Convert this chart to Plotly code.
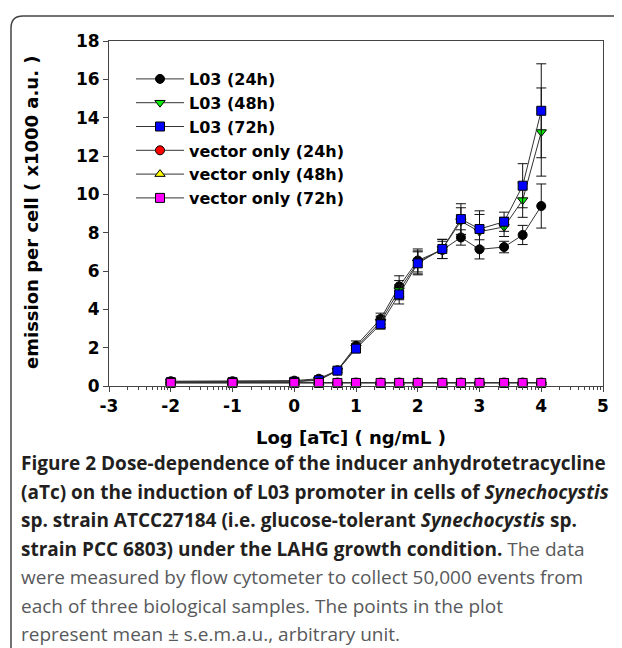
import math
import plotly.graph_objects as go

# ---- data ----
log_atc = [-2, -1, 0, 0.398, 0.699, 1, 1.398, 1.699, 2, 2.398, 2.699, 3, 3.398, 3.699, 4]

l03_24h = [0.25, 0.25, 0.28, 0.38, 0.82, 2.10, 3.50, 5.20, 6.55, 7.10, 7.75, 7.13, 7.25, 7.88, 9.39]
l03_24h_err = [0.05, 0.05, 0.05, 0.06, 0.10, 0.25, 0.30, 0.55, 0.60, 0.45, 0.40, 0.50, 0.30, 0.50, 1.15]
l03_48h = [0.22, 0.22, 0.25, 0.33, 0.80, 2.00, 3.35, 5.00, 6.45, 7.15, 8.60, 8.05, 8.30, 9.70, 13.25]
l03_48h_err = [0.05, 0.05, 0.05, 0.05, 0.10, 0.20, 0.30, 0.50, 0.60, 0.50, 0.70, 0.90, 0.50, 0.90, 2.30]
l03_72h = [0.20, 0.20, 0.22, 0.30, 0.80, 1.95, 3.22, 4.78, 6.40, 7.15, 8.71, 8.19, 8.57, 10.45, 14.36]
l03_72h_err = [0.05, 0.05, 0.05, 0.05, 0.10, 0.20, 0.25, 0.50, 0.60, 0.50, 0.80, 0.95, 0.50, 1.15, 2.45]
vec_24h = [0.18, 0.18, 0.18, 0.18, 0.18, 0.18, 0.18, 0.18, 0.18, 0.18, 0.18, 0.18, 0.18, 0.18, 0.18]
vec_48h = [0.17, 0.17, 0.17, 0.17, 0.17, 0.17, 0.17, 0.17, 0.17, 0.17, 0.17, 0.17, 0.17, 0.17, 0.17]
vec_72h = [0.16, 0.16, 0.16, 0.16, 0.16, 0.16, 0.16, 0.16, 0.16, 0.16, 0.16, 0.16, 0.16, 0.16, 0.16]
vec_err = [0.02] * 15

series_names = ["L03 (24h)", "L03 (48h)", "L03 (72h)",
                "vector only (24h)", "vector only (48h)", "vector only (72h)"]
x_ticks = [-3, -2, -1, 0, 1, 2, 3, 4, 5]
y_ticks = [0, 2, 4, 6, 8, 10, 12, 14, 16, 18]

GRAY = "<span style='color:#58595b'>{}</span>"
caption_lines = [
    "<b>Figure 2</b> <b>Dose-dependence of the inducer anhydrotetracycline</b>",
    "<b>(aTc) on the induction of L03 promoter in cells of <i>Synechocystis</i></b>",
    "<b>sp. strain ATCC27184 (i.e. glucose-tolerant <i>Synechocystis</i> sp.</b>",
    "<b>strain PCC 6803) under the LAHG growth condition.</b> " + GRAY.format("The data"),
    GRAY.format("were measured by flow cytometer to collect 50,000 events from"),
    GRAY.format("each of three biological samples. The points in the plot"),
    GRAY.format("represent mean ± s.e.m.a.u., arbitrary unit."),
]

# ---- layout geometry (pixels, in screenshot coordinates) ----
OFF = 8  # page body margin
W, H = 622 - OFF, 648 - OFF
L, R, T, B = 109 - OFF, 603 - OFF, 41 - OFF, 386 - OFF
pw, ph = R - L, B - T


def px(x):
    return (x - OFF - L) / pw


def py(y):
    return (B - (y - OFF)) / ph


styles = [
    dict(symbol="circle", color="#000000"),
    dict(symbol="triangle-down", color="#00ee00"),
    dict(symbol="square", color="#0000ff"),
    dict(symbol="circle", color="#ff0000"),
    dict(symbol="triangle-up", color="#ffff00"),
    dict(symbol="square", color="#ff00ff"),
]
ys = [l03_24h, l03_48h, l03_72h, vec_24h, vec_48h, vec_72h]
errs = [l03_24h_err, l03_48h_err, l03_72h_err, vec_err, vec_err, vec_err]

fig = go.Figure()
for name, y, e, st in zip(series_names, ys, errs, styles):
    fig.add_trace(go.Scatter(
        x=log_atc, y=y, name=name, mode="lines+markers",
        line=dict(color="#333333", width=1),
        marker=dict(symbol=st["symbol"], color=st["color"], size=9,
                    line=dict(color="#000000", width=1)),
        error_y=dict(type="data", array=e, visible=True, color="#111111",
                     thickness=1, width=5),
        cliponaxis=False,
    ))

minor_vals = []
for k in range(-3, 5):
    for m in range(2, 10):
        minor_vals.append(k + math.log10(m))

FONT = "DejaVu Sans, Liberation Sans, Arial, sans-serif"
tickfont = dict(family=FONT, size=17, color="#000000", weight="bold")

fig.update_layout(
    width=W, height=H, autosize=False,
    margin=dict(l=L, r=W - R, t=T, b=H - B, pad=0),
    paper_bgcolor="white", plot_bgcolor="white",
    showlegend=True,
    legend=dict(x=px(131), y=py(62), xanchor="left", yanchor="top",
                bgcolor="rgba(0,0,0,0)", borderwidth=0,
                font=dict(family=FONT, size=16, color="#000000", weight="bold"),
                itemwidth=48, tracegroupgap=0),
    xaxis=dict(range=[-3, 5], tickmode="array", tickvals=x_ticks,
               ticktext=[str(v) for v in x_ticks],
               showline=True, linecolor="#444444", linewidth=1, mirror=True,
               ticks="outside", ticklen=5, tickcolor="#444444", tickwidth=1,
               showgrid=False, zeroline=False, tickfont=tickfont,
               minor=dict(tickmode="array", tickvals=minor_vals, ticks="outside",
                          ticklen=3, tickcolor="#444444", tickwidth=1, showgrid=False)),
    yaxis=dict(range=[0, 18], tickmode="array", tickvals=y_ticks,
               ticktext=[str(v) for v in y_ticks],
               showline=True, linecolor="#444444", linewidth=1, mirror=True,
               ticks="outside", ticklen=5, tickcolor="#444444", tickwidth=1,
               showgrid=False, zeroline=False, tickfont=tickfont),
)

annotations = [
    dict(text="emission per cell ( x1000 a.u. )", x=px(31), y=py(212),
         xref="paper", yref="paper", showarrow=False, textangle=-90,
         xanchor="center", yanchor="middle",
         font=dict(family=FONT, size=18, color="#000000", weight="bold")),
    dict(text="Log [aTc] ( ng/mL )", x=px(351), y=py(437),
         xref="paper", yref="paper", showarrow=False,
         xanchor="center", yanchor="middle",
         font=dict(family=FONT, size=18, color="#000000", weight="bold")),
]
cap_y0, cap_dy = 463, 28.5
for i, line in enumerate(caption_lines):
    annotations.append(dict(
        text=line, x=px(19), y=py(cap_y0 + i * cap_dy),
        xref="paper", yref="paper", showarrow=False,
        xanchor="left", yanchor="middle", align="left",
        font=dict(family="Open Sans, Noto Sans, sans-serif", size=19, color="#231f20")))
fig.update_layout(annotations=annotations)

# rounded frame around the figure (open at right and bottom)
frame_path = (f"M {px(11)},{py(660)} L {px(11)},{py(28)} "
              f"Q {px(11)},{py(16)} {px(23)},{py(16)} L {px(640)},{py(16)}")
fig.add_shape(type="path", path=frame_path, xref="paper", yref="paper",
              line=dict(color="#444444", width=1.5))

fig.write_html("out.html")
